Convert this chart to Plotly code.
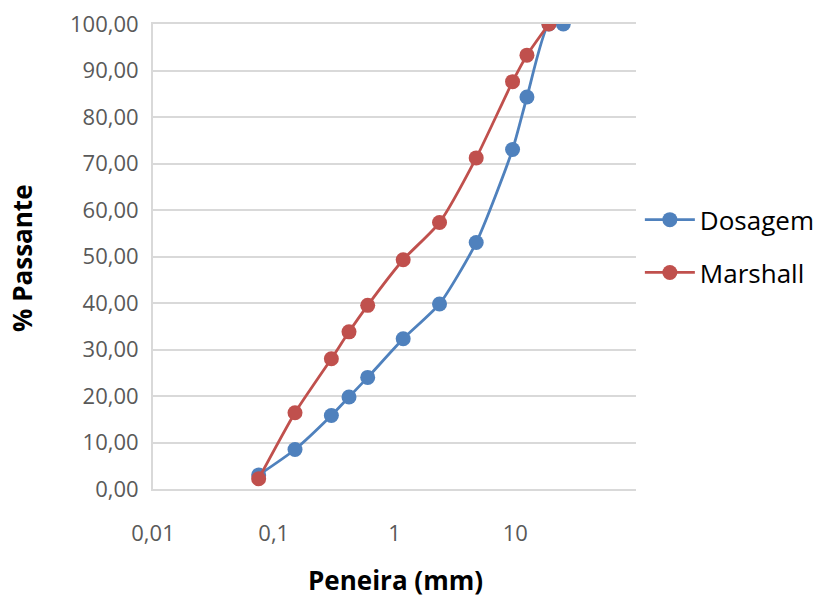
import plotly.graph_objects as go

sieves_dos = [0.075, 0.15, 0.3, 0.42, 0.6, 1.18, 2.36, 4.75, 9.5, 12.5, 19, 25]
dosagem = [3.0, 8.5, 15.8, 19.8, 24.0, 32.3, 39.8, 53.0, 73.0, 84.3, 100.0, 100.0]
sieves_mar = [0.075, 0.15, 0.3, 0.42, 0.6, 1.18, 2.36, 4.75, 9.5, 12.5, 19]
marshall = [2.2, 16.4, 28.0, 33.8, 39.5, 49.3, 57.3, 71.2, 87.6, 93.3, 100.0]

x_tickvals = [0.01, 0.1, 1, 10]
x_ticktext = ["0,01", "0,1", "1", "10"]

BLUE = "#4F81BD"
RED = "#C0504D"
FONT = "Open Sans"

fig = go.Figure()
fig.add_trace(go.Scatter(x=sieves_dos, y=dosagem, name="Dosagem", mode="lines+markers",
                         line=dict(color=BLUE, width=2.8, shape="spline", smoothing=0.6),
                         marker=dict(color=BLUE, size=15), legendgroup="a"))
fig.add_trace(go.Scatter(x=sieves_mar, y=marshall, name="Marshall", mode="lines+markers",
                         line=dict(color=RED, width=2.8, shape="spline", smoothing=0.6),
                         marker=dict(color=RED, size=15), legendgroup="b"))

fig.update_layout(
    width=822, height=597,
    margin=dict(l=153, r=186, t=24, b=108, autoexpand=False),
    paper_bgcolor="white", plot_bgcolor="white",
    separators=",.",
    font=dict(family=FONT, color="#595959"),
    showlegend=True,
    legend=dict(x=1.008, y=0.522, xanchor="left", yanchor="middle",
                font=dict(family=FONT, size=26, color="black"),
                traceorder="grouped", tracegroupgap=16, itemwidth=50),
    xaxis=dict(type="log", range=[-2, 2], tickvals=x_tickvals, ticktext=x_ticktext,
               showgrid=False, showline=True, linecolor="#D9D9D9", linewidth=2,
               mirror=True, ticks="", tickfont=dict(size=22, color="#595959"),
               ticklabelstandoff=24, automargin=False),
    yaxis=dict(range=[0, 100], dtick=10, tickformat=".2f", showgrid=True,
               gridcolor="#D9D9D9", gridwidth=1.5, showline=True, linecolor="#D9D9D9",
               linewidth=2, ticks="", tickfont=dict(size=22, color="#595959"),
               zeroline=False, ticklabelstandoff=8, automargin=False),
    annotations=[
        dict(text="<b>Peneira (mm)</b>", xref="paper", yref="paper", x=(395 - 153) / 483,
             y=(489 - 580) / 465, xanchor="center", yanchor="middle", showarrow=False,
             font=dict(family=FONT, size=26, color="black")),
        dict(text="<b>% Passante</b>", xref="paper", yref="paper", x=(22 - 153) / 483,
             y=(489 - 258) / 465, xanchor="center", yanchor="middle", showarrow=False,
             textangle=-90, font=dict(family=FONT, size=26, color="black")),
    ],
)

fig.write_html("out.html")
